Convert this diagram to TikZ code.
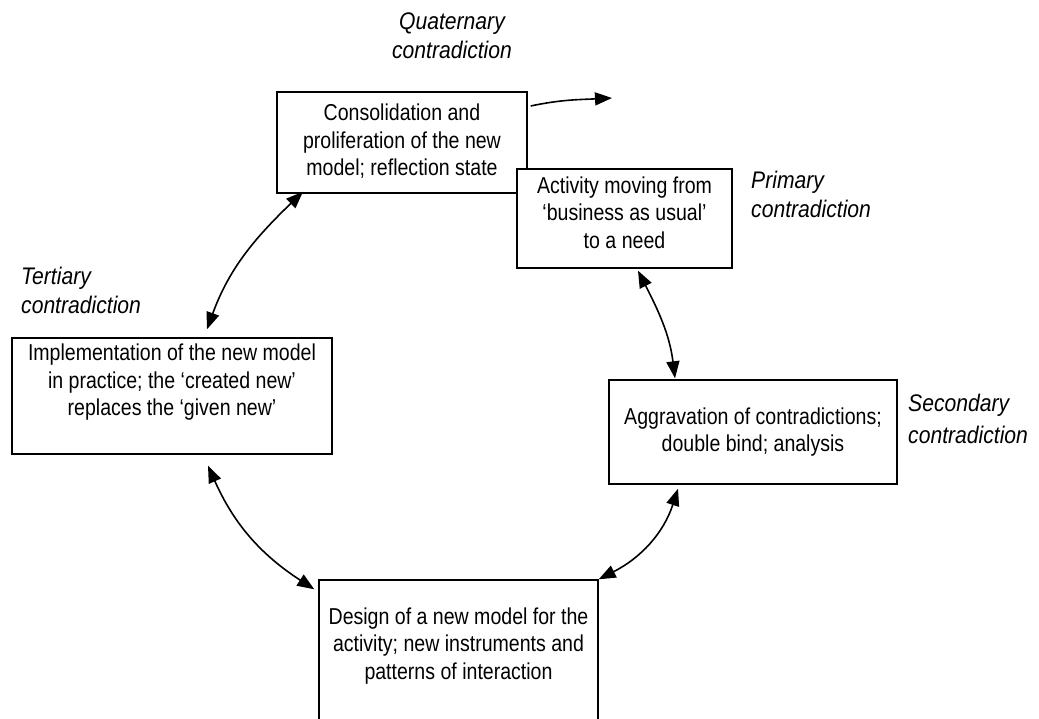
\documentclass[tikz,border=0pt]{standalone}
\usepackage{fontspec}
\setmainfont{Liberation Sans}[FakeStretch=0.85]
\newfontfamily\tagfont{Liberation Sans}[FakeStretch=0.88]
\usetikzlibrary{arrows.meta,calc}

\begin{document}
\begin{tikzpicture}[x=1pt,y=1pt,
  box/.style={draw=black, line width=1.4pt, fill=white, inner sep=0pt},
  boxtext/.style={align=center, font=\fontsize{23}{27.5}\selectfont, inner sep=0pt},
  tag/.style={align=left, font=\tagfont\fontsize{24}{29}\selectfont\itshape, inner sep=0pt},
  tip/.tip={Triangle[length=17pt,width=13pt]},
  link/.style={line width=1.6pt, tip-tip},
  onelink/.style={line width=1.6pt, -tip},
]
\useasboundingbox (0,0) rectangle (1039,718);

% stages of the cycle
\node[box, minimum width=250, minimum height=101] (cons) at (402,575.5) {};
\node[boxtext] (consT) at ($(cons.north)+(0,-50)$)
  {Consolidation and\\proliferation of the new\\model; reflection state};

\node[box, minimum width=215, minimum height=99] (act) at (624.5,499.5) {};
\node[boxtext] (actT) at ($(act.north)+(0,-44)$)
  {Activity moving from\\‘business as usual’\\to a need};

\node[box, minimum width=320, minimum height=116] (impl) at (172,322) {};
\node[boxtext] (implT) at ($(impl.north)+(0,-45)$)
  {Implementation of the new model\\in practice; the ‘created new’\\replaces the ‘given new’};

\node[box, minimum width=288, minimum height=104] (aggr) at (753,286) {};
\node[boxtext] (aggrT) at (aggr.center)
  {Aggravation of contradictions;\\double bind; analysis};

\node[box, minimum width=279, minimum height=178] (des) at (458.5,49) {};
\node[boxtext] (desT) at ($(des.north)+(0,-66.5)$)
  {Design of a new model for the\\activity; new instruments and\\patterns of interaction};

% contradiction labels
\node[tag, align=center, anchor=center] (quat) at (452,682) {Quaternary\\contradiction};
\node[tag, anchor=west] (prim) at (751,524) {Primary\\contradiction};
\node[tag, anchor=west] (tert) at (21,428) {Tertiary\\contradiction};
\node[tag, anchor=west, font=\tagfont\fontsize{24}{32}\selectfont\itshape] (sec) at (908,299) {Secondary\\contradiction};

% transitions between stages
\draw[link] ($(impl.north)+(35,8)$) to[out=70, in=224] ($(cons.south)+(-99,2)$);
\draw[link] ($(aggr.north)+(-78,1)$) to[out=97, in=297] ($(act.south)+(13.5,-2)$);
\draw[link] (des.north east) to[out=27, in=252] ($(aggr.south)+(-75,-4)$);
\draw[link] ($(impl.south)+(36,-11)$) to[out=294, in=147] ($(des.north west)+(-4,-10)$);

\coordinate (next) at (612,620);
\draw[onelink] ($(cons.east)+(3,36.5)$) to[out=12, in=183] (next);
\end{tikzpicture}
\end{document}
